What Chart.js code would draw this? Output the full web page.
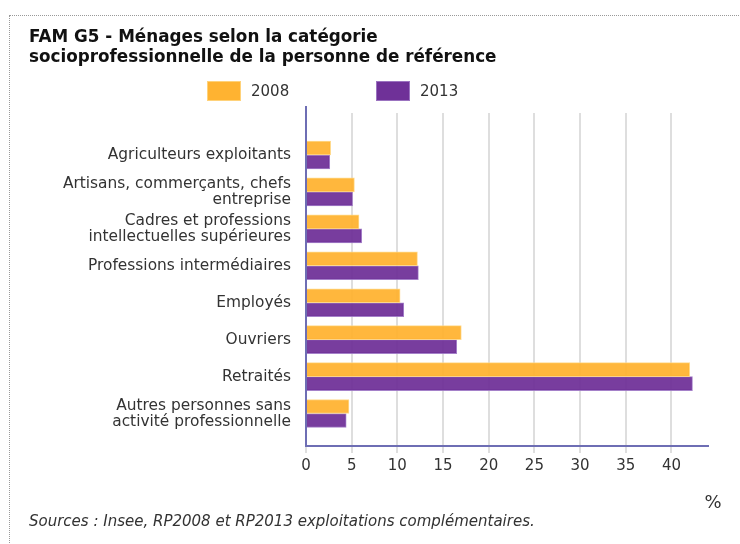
<!DOCTYPE html>
<html>
<head>
<meta charset="utf-8">
<script src="https://cdn.jsdelivr.net/npm/chart.js@4"></script>
<style>
  body { margin: 0; background: #fff; font-family: "DejaVu Sans", sans-serif; }
  #frame { position: absolute; left: 9px; top: 15px; width: 800px; height: 600px; border: 1px dotted #999; }
  #wrap { position: absolute; left: 0; top: 0; width: 740px; height: 544px; }
  .lg-box { position: absolute; width: 32px; height: 18px; top: 81px; }
  .lg-txt { position: absolute; top: 82px; font-size: 15px; line-height: 18px; color: #333; }
</style>
</head>
<body>
<div id="frame"></div>
<div id="wrap"><canvas id="chart" width="740" height="544"></canvas></div>
<div class="lg-box" style="left:207px;background:#FFB331;border:1px solid #ffd27a"></div>
<div class="lg-txt" style="left:251px">2008</div>
<div class="lg-box" style="left:376px;background:#6F3198;border:1px solid #9b73c0"></div>
<div class="lg-txt" style="left:420px">2013</div>
<script>
var categories = [
  'Agriculteurs exploitants',
  ['Artisans, commerçants, chefs', 'entreprise'],
  ['Cadres et professions', 'intellectuelles supérieures'],
  'Professions intermédiaires',
  'Employés',
  'Ouvriers',
  'Retraités',
  ['Autres personnes sans', 'activité professionnelle']
];
var values2008 = [2.7, 5.3, 5.8, 12.2, 10.3, 17.0, 42.0, 4.7];
var values2013 = [2.6, 5.1, 6.1, 12.3, 10.7, 16.5, 42.3, 4.4];
var title = ['FAM G5 - Ménages selon la catégorie', 'socioprofessionnelle de la personne de référence'];
var source = 'Sources : Insee, RP2008 et RP2013 exploitations complémentaires.';
var unit = '%';

var font = 'DejaVu Sans';
var axisColor = '#6E6EB4';

function points(values) {
  return values.map(function (v, i) { return { x: v, y: i }; });
}

// the "%" sits a bit right of the axis end, and the y axis line pokes above the grid
var axisExtras = {
  id: 'axisExtras',
  afterDraw: function (chart) {
    var ctx = chart.ctx, x = chart.scales.x, area = chart.chartArea;
    ctx.save();
    ctx.strokeStyle = axisColor;
    ctx.lineWidth = 2;
    ctx.beginPath();
    ctx.moveTo(area.left, area.top - 7);
    ctx.lineTo(area.left, area.top + 1);
    ctx.stroke();
    ctx.font = '18px "' + font + '"';
    ctx.fillStyle = '#333';
    ctx.textAlign = 'center';
    ctx.textBaseline = 'middle';
    ctx.fillText(unit, x.right + 5, 503);
    ctx.restore();
  }
};

var chart = new Chart(document.getElementById('chart'), {
  type: 'bar',
  data: {
    datasets: [
      { label: '2008', data: points(values2008), backgroundColor: 'rgba(255,177,45,0.92)', borderColor: 'rgba(255,214,130,0.9)', borderWidth: 1, barThickness: 14 },
      { label: '2013', data: points(values2013), backgroundColor: 'rgba(108,44,150,0.92)', borderColor: 'rgba(155,115,195,0.9)', borderWidth: 1, barThickness: 14 }
    ]
  },
  plugins: [axisExtras],
  options: {
    indexAxis: 'y',
    responsive: false,
    animation: false,
    devicePixelRatio: 1,
    layout: { padding: { left: 29, right: 32, top: 0, bottom: 0 } },
    plugins: {
      legend: { display: false },
      tooltip: { enabled: false },
      title: {
        display: true, align: 'start', text: title, color: '#111',
        font: { family: font, size: 16.8, weight: 'bold', lineHeight: '20px' },
        padding: { top: 28, bottom: 45 }
      },
      subtitle: {
        display: true, position: 'bottom', align: 'start', text: source, color: '#333',
        font: { family: font, size: 15, style: 'italic', lineHeight: '18px' },
        padding: { top: 34, bottom: 13 }
      }
    },
    scales: {
      x: {
        type: 'linear', position: 'bottom', min: 0, max: 44,
        ticks: { stepSize: 5, includeBounds: false, padding: 4, color: '#333', font: { family: font, size: 15 } },
        grid: { color: '#dedede', lineWidth: 2, tickLength: 7, drawTicks: true },
        border: { color: axisColor, width: 2 }
      },
      y: {
        type: 'linear', reverse: true, offset: false, min: -1.1373, max: 7.88,
        afterBuildTicks: function (axis) {
          axis.ticks = categories.map(function (c, i) { return { value: i }; });
        },
        afterFit: function (axis) { axis.width = 277; },
        ticks: {
          padding: 15, color: '#333', font: { family: font, size: 15.4, lineHeight: '16px' },
          callback: function (v) { return categories[Math.round(v)]; }
        },
        grid: { display: false, drawTicks: false },
        border: { color: axisColor, width: 2 }
      }
    }
  }
});
</script>
</body>
</html>
